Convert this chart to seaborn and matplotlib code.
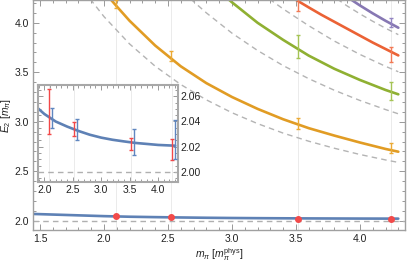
import matplotlib
matplotlib.use("Agg")
import matplotlib.pyplot as plt
import seaborn as sns
import pandas as pd
from matplotlib.ticker import MultipleLocator

# lattice pion masses (in units of physical pion mass)
m_lat = [2.09, 2.52, 3.52, 4.24]

# fitted two-particle levels E_2 [m_pi]
blue_m = [1.45, 1.6, 1.8, 1.9, 2.0, 2.2, 2.4, 2.6, 2.8, 3.0, 3.2, 3.4, 3.6, 3.8, 4.0, 4.2, 4.3]
blue_E = [2.068, 2.062, 2.054, 2.050, 2.046, 2.040, 2.036, 2.0325, 2.0295, 2.0272,
          2.0255, 2.0242, 2.0230, 2.0222, 2.0214, 2.0210, 2.0208]
orange_m = [2.05, 2.1, 2.2, 2.4, 2.6, 2.8, 3.0, 3.2, 3.4, 3.6, 3.8, 4.0, 4.2, 4.3]
orange_E = [4.24, 4.165, 4.02, 3.77, 3.56, 3.39, 3.25, 3.13, 3.025, 2.935, 2.86, 2.79, 2.725, 2.697]
green_m = [2.97, 3.0, 3.2, 3.4, 3.6, 3.8, 4.0, 4.2, 4.3]
green_E = [4.24, 4.207, 4.00, 3.827, 3.668, 3.535, 3.422, 3.321, 3.277]
red_m = [3.49, 3.6, 3.7, 3.8, 3.9, 4.0, 4.1, 4.2, 4.3]
red_E = [4.24, 4.155, 4.08, 4.01, 3.94, 3.87, 3.80, 3.735, 3.67]
purple_m = [3.93, 4.0, 4.1, 4.2, 4.3]
purple_E = [4.235, 4.175, 4.095, 4.02, 3.95]

# non-interacting levels (dashed)
d1_m = [1.88, 2.0, 2.2, 2.4, 2.6, 2.8, 3.0, 3.2, 3.4, 3.6, 3.8, 4.0, 4.2, 4.3]
d1_E = [4.26, 4.062, 3.786, 3.561, 3.376, 3.221, 3.091, 2.981, 2.885, 2.803, 2.732, 2.669, 2.614, 2.589]
d2_m = [2.66, 2.8, 3.0, 3.2, 3.4, 3.6, 3.8, 4.0, 4.2, 4.3]
d2_E = [4.26, 4.10, 3.895, 3.72, 3.567, 3.435, 3.318, 3.215, 3.123, 3.08]
d3_m = [3.26, 3.4, 3.6, 3.8, 4.0, 4.2, 4.3]
d3_E = [4.27, 4.14, 3.97, 3.815, 3.68, 3.56, 3.505]
d4_m = [3.80, 3.9, 4.0, 4.1, 4.2, 4.3]
d4_E = [4.26, 4.17, 4.09, 4.015, 3.945, 3.88]

# lattice data with errors
orange_pts = [4.19, 3.66, 2.98, 2.735]
orange_err = [0.04, 0.05, 0.054, 0.055]
green_pts_m = [3.52, 4.24]
green_pts = [3.76, 3.31]
green_err = [0.12, 0.095]
red_pts_m = [3.52, 4.24]
red_pts = [4.20, 3.68]
red_err = [0.08, 0.08]
purple_pts_m = [4.24]
purple_pts = [4.005]
purple_err = [0.045]

# ground state (inset)
gs_red = [2.048, 2.034, 2.022, 2.018]
gs_red_err = [0.0176, 0.0055, 0.005, 0.0083]
gs_blue = [2.043, 2.0335, 2.024, 2.0255]
gs_blue_err = [0.0078, 0.0084, 0.0102, 0.0153]

C_BLUE, C_ORANGE, C_GREEN, C_RED, C_PURPLE = "#5E81B5", "#E19C24", "#8FB032", "#EB6235", "#8778B3"

sns.set_style("ticks")
plt.rcParams["font.family"] = ["Liberation Sans", "DejaVu Sans"]
plt.rcParams["mathtext.fontset"] = "custom"
plt.rcParams["mathtext.rm"] = "Liberation Sans"
plt.rcParams["mathtext.it"] = "Liberation Sans:italic"

levels = pd.concat([
    pd.DataFrame({"m": blue_m, "E": blue_E, "level": "0"}),
    pd.DataFrame({"m": orange_m, "E": orange_E, "level": "1"}),
    pd.DataFrame({"m": green_m, "E": green_E, "level": "2"}),
    pd.DataFrame({"m": red_m, "E": red_E, "level": "3"}),
    pd.DataFrame({"m": purple_m, "E": purple_E, "level": "4"}),
])
free = pd.concat([
    pd.DataFrame({"m": d1_m, "E": d1_E, "level": "1"}),
    pd.DataFrame({"m": d2_m, "E": d2_E, "level": "2"}),
    pd.DataFrame({"m": d3_m, "E": d3_E, "level": "3"}),
    pd.DataFrame({"m": d4_m, "E": d4_E, "level": "4"}),
])
pal = {"0": C_BLUE, "1": C_ORANGE, "2": C_GREEN, "3": C_RED, "4": C_PURPLE}

fig = plt.figure(figsize=(4.07, 2.63), dpi=100)
ax = fig.add_axes([0.081, 0.1255, 0.914, 0.8745])

for m in m_lat:
    ax.axvline(m, color="#ebebeb", lw=0.7, zorder=0)
ax.axhline(2.0, color="#b0b0b0", lw=1.0, ls=(0, (4, 3)), zorder=1)

sns.lineplot(data=free, x="m", y="E", hue="level", palette={k: "#b4b4b4" for k in "1234"},
             estimator=None, sort=True, lw=1.0, ax=ax, legend=False, zorder=1)
for line in ax.lines[-4:]:
    line.set_dashes((4, 3))
sns.lineplot(data=levels, x="m", y="E", hue="level", palette=pal,
             estimator=None, sort=True, lw=1.9, ax=ax, legend=False, zorder=2)

eb = dict(fmt="none", capsize=1.5, elinewidth=1.0, capthick=1.0, zorder=3)
ax.errorbar(m_lat, orange_pts, yerr=orange_err, ecolor="#EBAA35", **eb)
ax.errorbar(green_pts_m, green_pts, yerr=green_err, ecolor="#A5C455", **eb)
ax.errorbar(red_pts_m, red_pts, yerr=red_err, ecolor="#F27A55", **eb)
ax.errorbar(purple_pts_m, purple_pts, yerr=purple_err, ecolor="#9385C2", **eb)
ax.plot(m_lat, gs_red, "o", color="#F24A4A", ms=4, zorder=4)

ax.set_xlim(1.445, 4.352)
ax.set_ylim(1.906, 4.23)
ax.xaxis.set_major_locator(MultipleLocator(0.5))
ax.xaxis.set_minor_locator(MultipleLocator(0.1))
ax.yaxis.set_major_locator(MultipleLocator(0.5))
ax.yaxis.set_minor_locator(MultipleLocator(0.1))
ax.tick_params(which="both", direction="in", top=True, right=True, colors="#999999",
               labelcolor="#222222", labelsize=7.5, width=0.7)
ax.tick_params(which="major", length=4, pad=3)
ax.tick_params(which="minor", length=2)
for s in ax.spines.values():
    s.set_color("#a0a0a0")
    s.set_linewidth(1.0)
ax.set_xlabel(r"$m_\pi$ [$m_\pi^{\rm phys}$]", fontsize=7.5, color="#222222")
ax.set_ylabel(r"$E_2$ [$m_\pi$]", fontsize=7.5, color="#222222")
ax.xaxis.set_label_coords(0.5, -0.072)
ax.yaxis.set_label_coords(-0.055, 0.5)

# inset: ground state zoom
ins = fig.add_axes([0.0934, 0.308, 0.344, 0.369], zorder=5)
ins.set_facecolor("white")
for m in m_lat:
    ins.axvline(m, color="#ebebeb", lw=0.7, zorder=0)
ins.axhline(2.0, color="#b0b0b0", lw=1.0, ls=(0, (4, 3)), zorder=1)
sns.lineplot(x=blue_m, y=blue_E, color=C_BLUE, lw=1.9, ax=ins, zorder=2)
ins.errorbar(m_lat, gs_red, yerr=gs_red_err, ecolor="#F24848", **eb)
ins.errorbar([m + 0.05 for m in m_lat], gs_blue, yerr=gs_blue_err, ecolor="#5F86C0", **eb)
ins.set_xlim(1.89, 4.35)
ins.set_ylim(1.992, 2.069)
ins.xaxis.set_major_locator(MultipleLocator(0.5))
ins.xaxis.set_minor_locator(MultipleLocator(0.1))
ins.yaxis.set_major_locator(MultipleLocator(0.02))
ins.yaxis.set_minor_locator(MultipleLocator(0.005))
ins.yaxis.set_major_formatter(matplotlib.ticker.FormatStrFormatter("%.2f"))
ins.tick_params(which="both", direction="in", top=True, right=True, left=True,
                labelleft=False, labelright=True, colors="#999999",
                labelcolor="#222222", labelsize=7.5, width=0.7)
ins.tick_params(which="major", length=3.5, pad=2)
ins.tick_params(which="minor", length=2)
for s in ins.spines.values():
    s.set_color("#a8a8a8")
    s.set_linewidth(1.5)

fig.savefig("out.png", dpi=100)
